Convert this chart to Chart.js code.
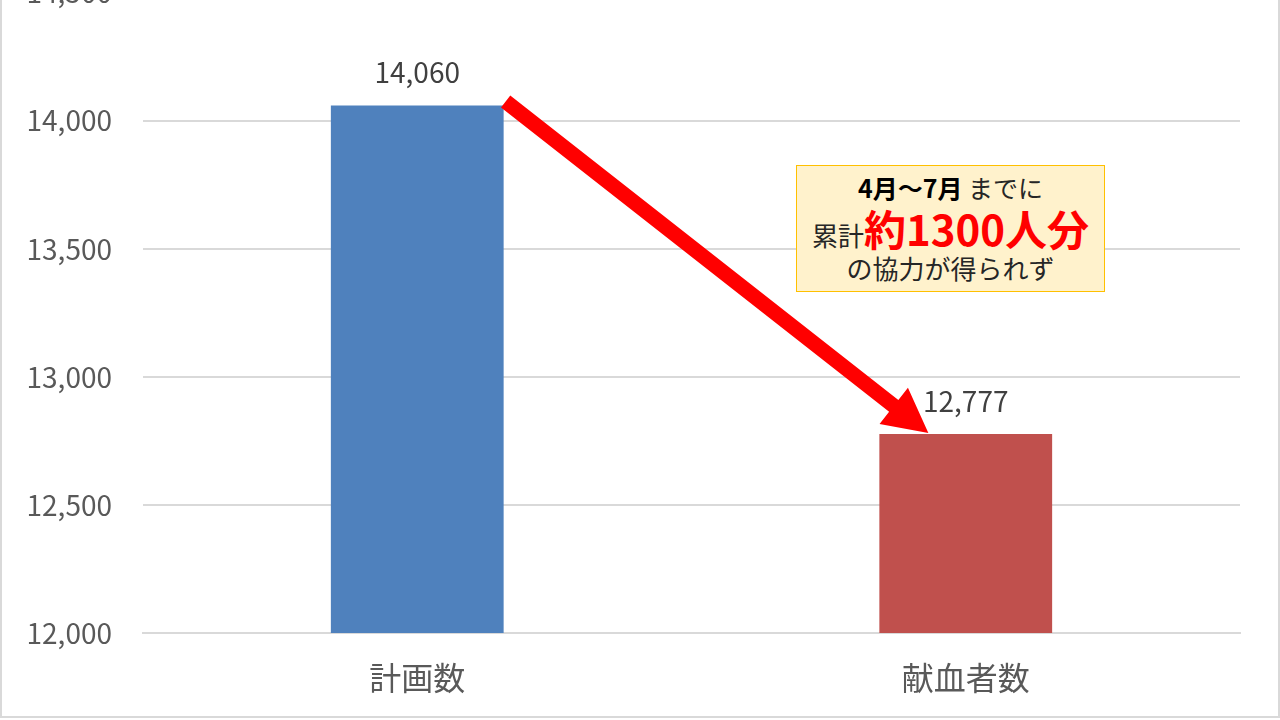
<!DOCTYPE html>
<html lang="ja">
<head>
<meta charset="utf-8">
<script src="https://cdn.jsdelivr.net/npm/chart.js@4/dist/chart.umd.min.js"></script>
<style>
  html, body { margin: 0; padding: 0; background: #ffffff; overflow: hidden; }
  body { width: 1280px; height: 720px; position: relative; font-family: "Noto Sans CJK JP", "Noto Sans", sans-serif; }
  #wrap { position: absolute; left: 0; top: -55px; width: 1280px; height: 775px; }
  #frame { position: absolute; left: 0; top: -10px; width: 1280px; height: 728px; border: 2px solid #d9d9d9; box-sizing: border-box; pointer-events: none; }
  #note { position: absolute; left: 796px; top: 165px; width: 309px; height: 127px; box-sizing: border-box;
          background: #FFF2CC; border: 1px solid #FFC000; text-align: center; color: #262626; }
  #note .l1 { height: 42px; line-height: 42px; font-size: 25px; }
  #note .l2 { height: 40px; line-height: 40px; font-size: 26px; }
  #note .l3 { height: 40px; line-height: 40px; font-size: 26px; }
  #note b { font-weight: 700; color: #000; }
  #note .big { font-size: 42px; font-weight: 700; color: #FF0000; }
</style>
</head>
<body>
<div id="wrap"><canvas id="c"></canvas></div>
<div id="frame"></div>
<div id="note">
  <div class="l1"><b>4月～7月</b> までに</div>
  <div class="l2">累計<span class="big">約1300人分</span></div>
  <div class="l3">の協力が得られず</div>
</div>
<script>
const categories = ["計画数", "献血者数"];
const values = [14060, 12777];
const barColors = ["#4F81BD", "#C0504D"];
const yMin = 12000;
const yMax = 14500;
const yStep = 500;

const fmt = v => v.toLocaleString("en-US");
const FONT = '"Noto Sans CJK JP", "Noto Sans", sans-serif';

const valueLabels = {
  id: "valueLabels",
  afterDatasetsDraw(chart) {
    const ctx = chart.ctx;
    const meta = chart.getDatasetMeta(0);
    ctx.save();
    ctx.font = "28px " + FONT;
    ctx.fillStyle = "#404040";
    ctx.textAlign = "center";
    ctx.textBaseline = "middle";
    meta.data.forEach((bar, i) => {
      ctx.fillText(fmt(values[i]), bar.x, bar.y - 33);
    });
    ctx.restore();
  }
};

const arrow = {
  id: "arrow",
  afterDatasetsDraw(chart) {
    const meta = chart.getDatasetMeta(0);
    const b0 = meta.data[0], b1 = meta.data[1];
    const sx = b0.x + b0.width / 2 + 2, sy = b0.y - 4;
    const ex = b1.x - b1.width / 2 + 49, ey = b1.y - 1;
    const dx = ex - sx, dy = ey - sy, len = Math.hypot(dx, dy);
    const ux = dx / len, uy = dy / len, nx = -uy, ny = ux;
    const w = 15, hl = 44, hw = 46;
    const bx = ex - ux * hl, by = ey - uy * hl;
    const ctx = chart.ctx;
    ctx.save();
    ctx.fillStyle = "#FF0000";
    ctx.beginPath();
    ctx.moveTo(sx + nx * w / 2, sy + ny * w / 2);
    ctx.lineTo(bx + nx * w / 2, by + ny * w / 2);
    ctx.lineTo(bx + nx * hw / 2, by + ny * hw / 2);
    ctx.lineTo(ex, ey);
    ctx.lineTo(bx - nx * hw / 2, by - ny * hw / 2);
    ctx.lineTo(bx - nx * w / 2, by - ny * w / 2);
    ctx.lineTo(sx - nx * w / 2, sy - ny * w / 2);
    ctx.closePath();
    ctx.fill();
    ctx.restore();
  }
};

function build() {
  new Chart(document.getElementById("c"), {
    type: "bar",
    data: {
      labels: categories,
      datasets: [{
        data: values,
        backgroundColor: barColors,
        borderWidth: 0,
        categoryPercentage: 1,
        barPercentage: 0.315
      }]
    },
    options: {
      responsive: true,
      maintainAspectRatio: false,
      animation: false,
      layout: { padding: { left: 0, right: 40, top: 33, bottom: 0 } },
      plugins: { legend: { display: false }, tooltip: { enabled: false } },
      scales: {
        x: {
          grid: { display: false, drawTicks: false },
          border: { display: true, color: "#d9d9d9", width: 2 },
          ticks: { color: "#595959", font: { family: FONT, size: 32 }, padding: 26 },
          afterFit(scale) { scale.height = 87; }
        },
        y: {
          min: yMin,
          max: yMax,
          grid: { color: "#d9d9d9", lineWidth: 2, drawTicks: false },
          border: { display: false },
          ticks: {
            stepSize: yStep,
            color: "#595959",
            font: { family: FONT, size: 28 },
            padding: 31,
            callback: v => fmt(v)
          },
          afterFit(scale) { scale.width = 143; }
        }
      }
    },
    plugins: [valueLabels, arrow]
  });
}

Promise.all([
  document.fonts.load('28px "Noto Sans CJK JP"'),
  document.fonts.load('32px "Noto Sans CJK JP"')
]).then(build, build);
</script>
</body>
</html>
